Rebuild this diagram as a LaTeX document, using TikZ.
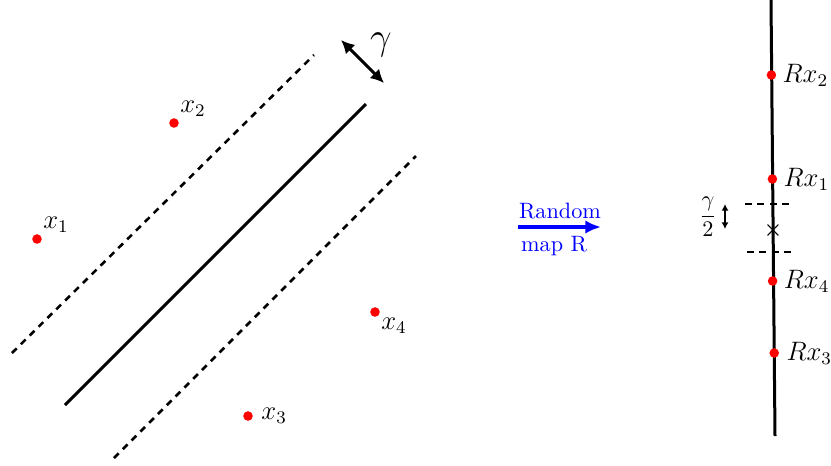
\documentclass[tikz,border=0pt]{standalone}
\usetikzlibrary{arrows.meta}
\begin{document}
\begin{tikzpicture}[x={(0.45pt,0)},y={(0,-0.45pt)},
  pt/.style={circle,fill=red,inner sep=0pt,minimum size=4.3pt},
  lbl/.style={font=\large,inner sep=1pt},
  solidline/.style={line width=1.35pt},
  dashline/.style={line width=1.15pt,dash pattern=on 3pt off 2.6pt},
  dbl/.style={line width=1.3pt,{Latex[length=6pt,width=6pt]}-{Latex[length=6pt,width=6pt]}}]
\useasboundingbox (0,0) rectangle (831,465);
% left panel
\coordinate (s1) at (65,405); \coordinate (s2) at (366,104);
\coordinate (u1) at (12,353); \coordinate (u2) at (314,55);
\coordinate (l1) at (114,458); \coordinate (l2) at (416,156);
\draw[solidline] (s1) -- (s2);
\draw[dashline] (u1) -- (u2);
\draw[dashline] (l1) -- (l2);
\coordinate (g1) at (341,40); \coordinate (g2) at (384,83);
\draw[dbl] (g1) -- (g2);
\node[font=\LARGE] (gam) at (381,45) {$\gamma$};
\node[pt] (x1) at (37,239) {};
\node[pt] (x2) at (174,123) {};
\node[pt] (x4) at (375,312) {};
\node[pt] (x3) at (248,416) {};
\node[lbl,anchor=south west] at (x1.north east) {$x_1$};
\node[lbl,anchor=south west] at (x2.north east) {$x_2$};
\node[lbl,anchor=north west] at (x4.south east) {$x_4$};
\node[lbl,anchor=west] at ([xshift=2.5pt]x3.east) {$x_3$};
% arrow
\coordinate (a1) at (518,227); \coordinate (a2) at (601,227);
\draw[blue,line width=1.6pt,-{Latex[length=7pt,width=6pt]}] (a1) -- (a2);
\node[blue] (rnd) at (560,211) {Random};
\node[blue] (mapr) at (554,246) {map R};
% right panel
\coordinate (v1) at (771,0); \coordinate (v2) at (775,436);
\draw[solidline] (v1) -- (v2);
\node[pt] (r2) at (771.4,75) {};
\node[pt] (r1) at (772.4,179) {};
\node[pt] (r4) at (772.6,281) {};
\node[pt] (r3) at (774.2,353) {};
\node[lbl,anchor=west] at ([xshift=1.5pt]r2.east) {$Rx_2$};
\node[lbl,anchor=west] at ([xshift=1.5pt]r1.east) {$Rx_1$};
\node[lbl,anchor=west] at ([xshift=1.5pt]r4.east) {$Rx_4$};
\node[lbl,anchor=west] at ([xshift=2pt]r3.east) {$Rx_3$};
\coordinate (h1a) at (745,204); \coordinate (h1b) at (793,204);
\coordinate (h2a) at (747,252); \coordinate (h2b) at (793,252);
\draw[dashline] (h1a) -- (h1b);
\draw[dashline] (h2a) -- (h2b);
\node[inner sep=0pt,font=\small\boldmath] (cr) at (773,230) {$\times$};
\coordinate (d1) at (725,204); \coordinate (d2) at (725,229);
\draw[line width=1.1pt,{Latex[length=3pt,width=3.2pt]}-{Latex[length=3pt,width=3.2pt]}] (d1) -- (d2);
\node (frac) at (708,217) {$\displaystyle\frac{\gamma}{2}$};
\end{tikzpicture}
\end{document}
